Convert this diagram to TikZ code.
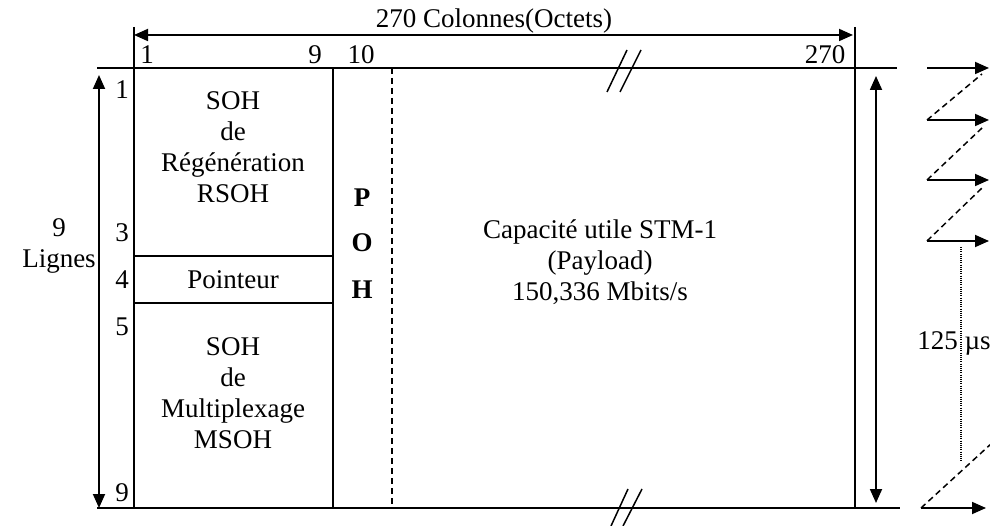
\documentclass[tikz,border=0pt]{standalone}
\usepackage{fontspec}
\setmainfont{Liberation Serif}
\usetikzlibrary{arrows.meta}
\begin{document}
\begin{tikzpicture}[x=1pt,y=-1pt, line width=1.8pt,
 txt/.style={font=\fontsize{27}{31}\selectfont, inner sep=0pt, align=center},
 bld/.style={txt, font=\fontsize{27}{31}\selectfont\bfseries},
 tip/.style={-{Triangle[length=14pt,width=12pt]}},
 dtip/.style={{Triangle[length=14pt,width=12pt]}-{Triangle[length=14pt,width=12pt]}},
 dsh/.style={dash pattern=on 6pt off 4pt},
 dot/.style={line width=1.2pt, dash pattern=on 1pt off 1.2pt},
 thin/.style={line width=1.5pt}
]
\useasboundingbox (0,0) rectangle (990,526);
% coordinates
\coordinate (lt) at (134,27);  \coordinate (lb) at (134,508);
\coordinate (rt) at (855,27);  \coordinate (rb) at (855,508);
\coordinate (topL) at (97,68); \coordinate (topR) at (897,68);
\coordinate (botL) at (97,508); \coordinate (botR) at (900,508);
\coordinate (c9t) at (333,68); \coordinate (c9b) at (333,508);
\coordinate (c10t) at (392,68); \coordinate (c10b) at (392,508);
\coordinate (r3l) at (134,256); \coordinate (r3r) at (333,256);
\coordinate (r4l) at (134,303); \coordinate (r4r) at (333,303);
\coordinate (dimL) at (134,35); \coordinate (dimR) at (853,35);
\coordinate (vlT) at (99,75);  \coordinate (vlB) at (99,508);
\coordinate (vrT) at (876,76); \coordinate (vrB) at (876,503);
% frame
\draw (lt) -- (lb);
\draw (rt) -- (rb);
\draw (topL) -- (topR);
\draw (botL) -- (botR);
\draw[thin] (c9t) -- (c9b);
\draw[thin, dsh] (c10t) -- (c10b);
\draw (r3l) -- (r3r);
\draw[thin] (r4l) -- (r4r);
% break marks
\draw[thin] (607,92) -- (627,50);
\draw[thin] (620,92) -- (641,50);
\draw[thin] (611,526) -- (628,489);
\draw[thin] (623,526) -- (642,489);
% dimension arrows
\draw[dtip] (dimL) -- (dimR);
\draw[dtip] (vlT) -- (vlB);
\draw[dtip] (vrT) -- (vrB);
% labels
\node[txt] (cols) at (494,21) {270 Colonnes(Octets)};
\node[txt] (k1) at (147,55) {1};
\node[txt] (k9) at (315,55) {9};
\node[txt] (k10) at (361,55) {10};
\node[txt] (k270) at (825,55) {270};
\node[txt] (r1) at (122,90) {1};
\node[txt] (r3) at (122,233) {3};
\node[txt] (r4) at (122,280) {4};
\node[txt] (r5) at (122,327) {5};
\node[txt] (r9) at (122,493) {9};
\node[txt] (lig) at (59,246) {9\\Lignes};
\node[txt] (rsoh) at (233,147) {SOH\\de\\Régénération\\RSOH};
\node[txt] (ptr) at (233,280) {Pointeur};
\node[txt] (msoh) at (233,393) {SOH\\de\\Multiplexage\\MSOH};
\node[bld] (pP) at (362,198) {P};
\node[bld] (pO) at (362,243) {O};
\node[bld] (pH) at (362,290) {H};
\node[txt] (pay) at (600,262) {Capacité utile STM-1\\(Payload)\\150,336 Mbits/s};
% right side frames
\coordinate (a1s) at (927,68);  \coordinate (a1e) at (989,68);
\coordinate (a2s) at (927,120); \coordinate (a2e) at (989,120);
\coordinate (a3s) at (927,180); \coordinate (a3e) at (989,180);
\coordinate (a4s) at (927,241); \coordinate (a4e) at (989,241);
\coordinate (a5s) at (921,508); \coordinate (a5e) at (986,508);
\coordinate (d5e) at (992,443);
\draw[tip] (a1s) -- (a1e);
\draw[tip] (a2s) -- (a2e);
\draw[tip] (a3s) -- (a3e);
\draw[tip] (a4s) -- (a4e);
\draw[tip] (a5s) -- (a5e);
\draw[thin, dsh] (a2s) -- (982,74);
\draw[thin, dsh] (a3s) -- (982,128);
\draw[thin, dsh] (a4s) -- (982,188);
\draw[thin, dsh] (a5s) -- (d5e);
\node[txt] (us) at (954,343) {125 µs};
\coordinate (dtT) at (961,247); \coordinate (dtB) at (961,462);
\draw[dot] (dtT) -- (dtB);
\end{tikzpicture}
\end{document}
